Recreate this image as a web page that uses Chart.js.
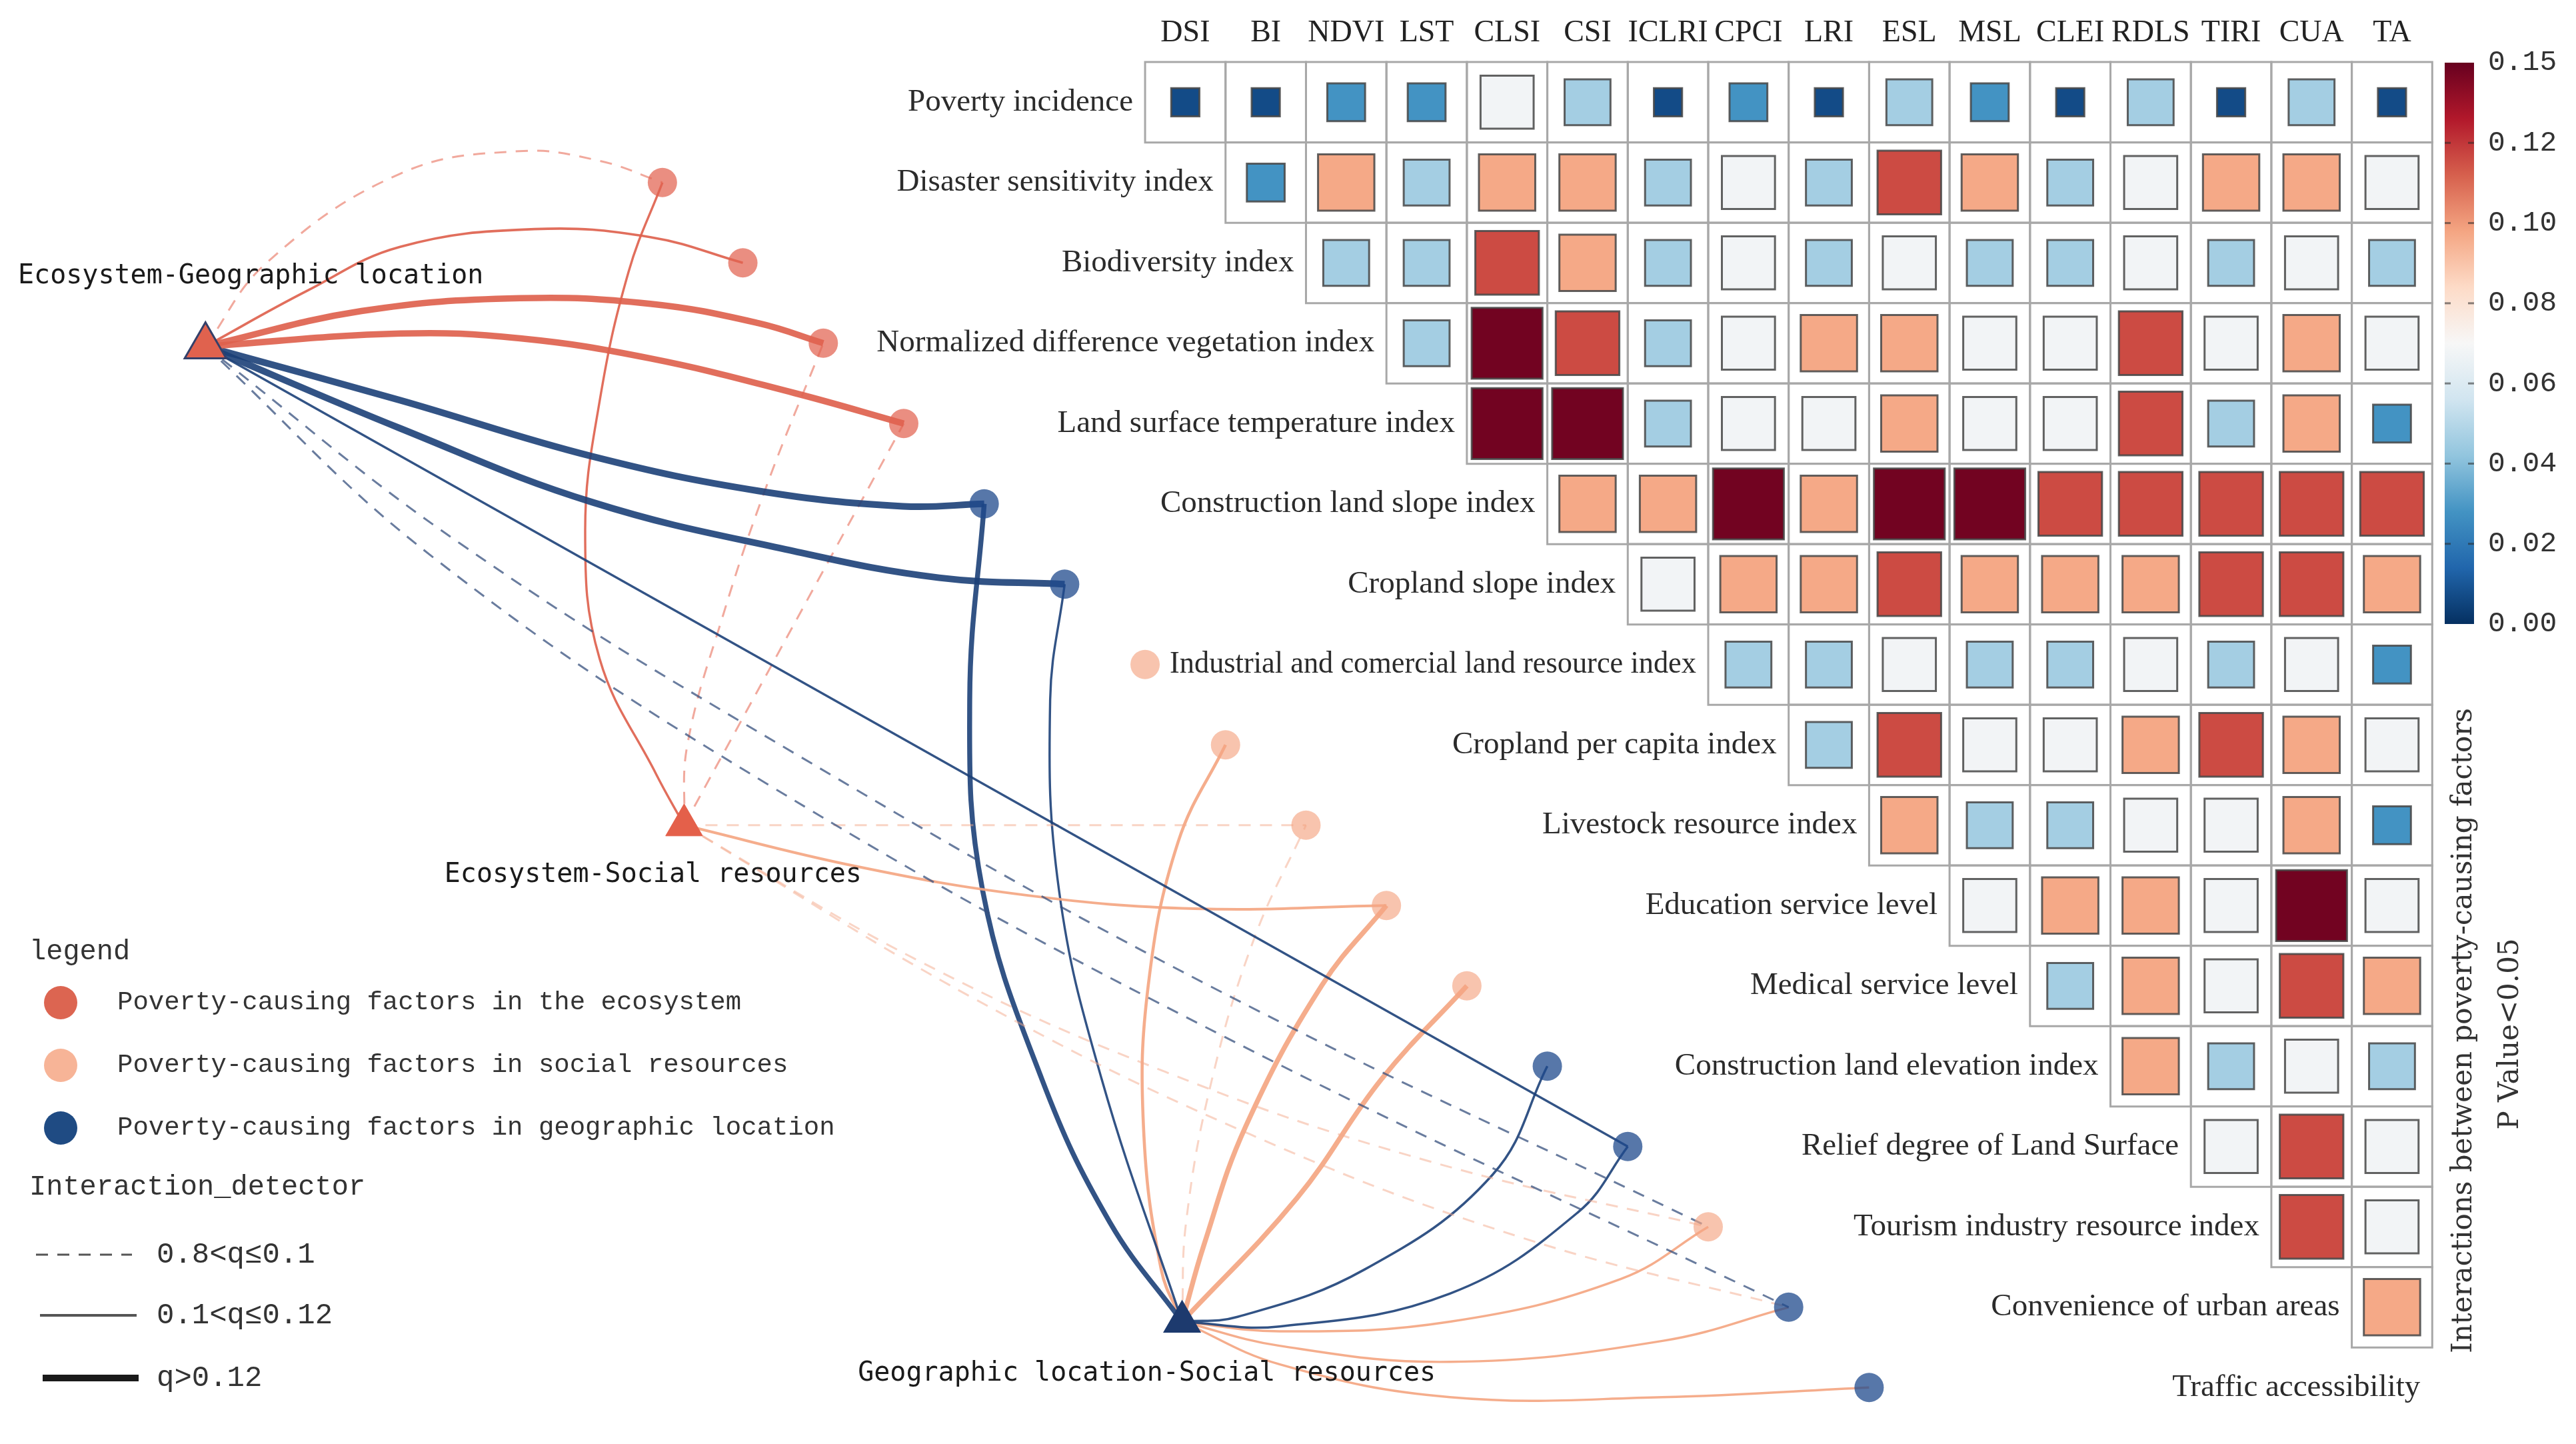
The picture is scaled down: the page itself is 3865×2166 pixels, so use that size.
<!DOCTYPE html>
<html>
<head>
<meta charset="utf-8">
<script src="https://cdn.jsdelivr.net/npm/chart.js@4.4.1/dist/chart.umd.min.js"></script>
<style>
  html, body { margin: 0; padding: 0; background: #fff; }
  canvas { display: block; }
</style>
</head>
<body>
<canvas id="chart" width="3865" height="2166"></canvas>
<script>
// ---------- data ----------
const factors = ["DSI", "BI", "NDVI", "LST", "CLSI", "CSI", "ICLRI", "CPCI", "LRI", "ESL", "MSL", "CLEI", "RDLS", "TIRI", "CUA", "TA"];
const rowLabels = [
  "Poverty incidence", "Disaster sensitivity index", "Biodiversity index",
  "Normalized difference vegetation index", "Land surface temperature index",
  "Construction land slope index", "Cropland slope index",
  "Industrial and comercial land resource index", "Cropland per capita index",
  "Livestock resource index", "Education service level", "Medical service level",
  "Construction land elevation index", "Relief degree of Land Surface",
  "Tourism industry resource index", "Convenience of urban areas", "Traffic accessibility"
];
// factor type of each column: eco = ecosystem, soc = social resources, geo = geographic location
const factorGroups = ["eco", "eco", "eco", "eco", "geo", "geo", "soc", "soc", "soc", "soc", "soc", "geo", "geo", "soc", "geo", "geo"];

// q values, row r starts at column r
const rowPI    = [0.007, 0.007, 0.028, 0.028, 0.068, 0.046, 0.007, 0.028, 0.007, 0.046, 0.028, 0.007, 0.046, 0.007, 0.046, 0.007];
const rowDSI   = [0.028, 0.097, 0.046, 0.097, 0.097, 0.046, 0.068, 0.046, 0.116, 0.097, 0.046, 0.068, 0.097, 0.097, 0.068];
const rowBI    = [0.046, 0.046, 0.116, 0.097, 0.046, 0.068, 0.046, 0.068, 0.046, 0.046, 0.068, 0.046, 0.068, 0.046];
const rowNDVI  = [0.046, 0.147, 0.116, 0.046, 0.068, 0.097, 0.097, 0.068, 0.068, 0.116, 0.068, 0.097, 0.068];
const rowLST   = [0.147, 0.147, 0.046, 0.068, 0.068, 0.097, 0.068, 0.068, 0.116, 0.046, 0.097, 0.028];
const rowCLSI  = [0.097, 0.097, 0.147, 0.097, 0.147, 0.147, 0.116, 0.116, 0.116, 0.116, 0.116];
const rowCSI   = [0.068, 0.097, 0.097, 0.116, 0.097, 0.097, 0.097, 0.116, 0.116, 0.097];
const rowICLRI = [0.046, 0.046, 0.068, 0.046, 0.046, 0.068, 0.046, 0.068, 0.028];
const rowCPCI  = [0.046, 0.116, 0.068, 0.068, 0.097, 0.116, 0.097, 0.068];
const rowLRI   = [0.097, 0.046, 0.046, 0.068, 0.068, 0.097, 0.028];
const rowESL   = [0.068, 0.097, 0.097, 0.068, 0.147, 0.068];
const rowMSL   = [0.046, 0.097, 0.068, 0.116, 0.097];
const rowCLEI  = [0.097, 0.046, 0.068, 0.046];
const rowRDLS  = [0.068, 0.116, 0.068];
const rowTIRI  = [0.116, 0.068];
const rowCUA   = [0.097];
const qRows = [rowPI, rowDSI, rowBI, rowNDVI, rowLST, rowCLSI, rowCSI, rowICLRI, rowCPCI, rowLRI, rowESL, rowMSL, rowCLEI, rowRDLS, rowTIRI, rowCUA];

const cbTicks = [0, 0.02, 0.04, 0.06, 0.08, 0.10, 0.12, 0.15];

const hubNames = ["Ecosystem-Geographic location", "Ecosystem-Social resources", "Geographic location-Social resources"];
// [hub, factor, line colour group, q]
const edges = [
  [0, "DSI", "eco", 0.09], [0, "BI", "eco", 0.106], [0, "NDVI", "eco", 0.142], [0, "LST", "eco", 0.142],
  [0, "CLSI", "geo", 0.145], [0, "CSI", "geo", 0.145], [0, "RDLS", "geo", 0.104],
  [0, "TIRI", "geo", 0.09], [0, "CUA", "geo", 0.09],
  [1, "DSI", "eco", 0.104], [1, "NDVI", "eco", 0.09], [1, "LST", "eco", 0.09],
  [1, "LRI", "soc", 0.09], [1, "ESL", "soc", 0.11], [1, "TIRI", "soc", 0.088], [1, "CUA", "soc", 0.088],
  [2, "CLSI", "geo", 0.127], [2, "CSI", "geo", 0.104], [2, "CPCI", "soc", 0.116], [2, "LRI", "soc", 0.09],
  [2, "ESL", "soc", 0.126], [2, "MSL", "soc", 0.126], [2, "CLEI", "geo", 0.105], [2, "RDLS", "geo", 0.105],
  [2, "TIRI", "soc", 0.105], [2, "CUA", "soc", 0.104], [2, "TA", "soc", 0.104]
];

const legendGroups = ["Poverty-causing factors in the ecosystem", "Poverty-causing factors in social resources", "Poverty-causing factors in geographic location"];
const bandLabels = ["0.8<q≤0.1", "0.1<q≤0.12", "q>0.12"];

// ---------- layout (axis units: one heatmap cell = 1) ----------
const X_MIN = -14.734, X_MAX = 17.287, Y_MIN = -1.272, Y_MAX = 16.703;
const hubPos = [[-12.18, 3.04], [-6.23, 9.0], [-0.04, 15.18]];
const hubLabelPos = [[-14.51, 2.17], [-9.21, 9.62], [-4.07, 15.83]];
// points each curve passes through between hub and factor (null = straight)
const edgeVia = [
  [[-11.42, 2.00], [-9.76, 0.89], [-8.28, 0.61], [-7.28, 0.73]],
  [[-10.92, 2.35], [-9.76, 1.80], [-8.09, 1.58], [-6.65, 1.68]],
  [[-10.24, 2.60], [-8.27, 2.44], [-6.65, 2.51], [-5.31, 2.75]],
  [[-9.76, 2.88], [-8.27, 2.94], [-6.65, 3.19], [-4.86, 3.62]],
  [[-9.76, 3.71], [-7.37, 4.41], [-5.30, 4.84], [-3.51, 5.03]],
  [[-9.76, 4.06], [-7.37, 4.98], [-4.86, 5.59], [-3.06, 5.92]],
  null,
  [[-9.02, 5.49], [-4.85, 8.11], [0.32, 11.01]],
  [[-9.37, 5.65], [-5.16, 8.51], [0.46, 11.62]],
  [[-6.58, 8.36], [-7.28, 6.93], [-7.46, 5.33], [-7.28, 3.72], [-6.92, 2.11]],
  [[-6.19, 8.00], [-5.75, 6.40], [-5.21, 4.79]],
  null,
  null,
  [[-4.10, 9.51], [-1.99, 9.87], [0.12, 10.04]],
  [[-3.33, 10.68], [-0.25, 12.07], [3.02, 13.18]],
  [[-2.66, 11.14], [0.81, 12.85], [4.20, 14.14]],
  [[-0.94, 13.94], [-1.78, 12.17], [-2.52, 9.81], [-2.68, 7.44]],
  [[-1.04, 12.16], [-1.57, 9.81], [-1.68, 7.44]],
  [[-0.30, 14.53], [-0.52, 12.75], [-0.46, 10.99], [-0.09, 9.21]],
  [[0.01, 13.94], [0.33, 12.17], [0.86, 10.40]],
  [[0.23, 14.23], [0.75, 12.75], [1.70, 10.99]],
  [[1.39, 13.64], [2.44, 12.16]],
  [[0.65, 15.12], [2.23, 14.53], [3.82, 13.35]],
  [[1.17, 15.24], [3.29, 14.83], [4.88, 13.82]],
  [[1.17, 15.30], [3.29, 15.18], [5.41, 14.65]],
  [[1.17, 15.48], [3.29, 15.68], [5.93, 15.42]],
  [[1.17, 15.71], [3.29, 16.12], [5.93, 16.12]]
];

// ---------- helpers ----------
const RDBU_R = ["#053061", "#2166ac", "#4393c3", "#92c5de", "#d1e5f0", "#f7f7f7", "#fddbc7", "#f4a582", "#d6604d", "#b2182b", "#67001f"];
const hex = h => [1, 3, 5].map(i => parseInt(h.slice(i, i + 2), 16));
function cmap(pos) {
  const f = Math.max(0, Math.min(1, pos)) * 10, i = Math.min(9, Math.floor(f)), t = f - i;
  const a = hex(RDBU_R[i]), b = hex(RDBU_R[i + 1]);
  return "rgb(" + a.map((v, k) => Math.round(v + (b[k] - v) * t)).join(",") + ")";
}
function valuePos(v) {
  for (let i = 0; i < cbTicks.length - 1; i++) {
    if (v <= cbTicks[i + 1]) return (i + (v - cbTicks[i]) / (cbTicks[i + 1] - cbTicks[i])) / (cbTicks.length - 1);
  }
  return 1;
}
const sizeStops = [[0, 0.31], [0.007, 0.35], [0.028, 0.47], [0.046, 0.57], [0.068, 0.66], [0.097, 0.70], [0.116, 0.79], [0.147, 0.88], [0.2, 0.9]];
function cellSize(v) {
  for (let i = 0; i < sizeStops.length - 1; i++) {
    const [a, sa] = sizeStops[i], [b, sb] = sizeStops[i + 1];
    if (v <= b) return sa + (sb - sa) * (v - a) / (b - a);
  }
  return 0.9;
}
const unitPx = chart => chart.scales.x.getPixelForValue(1) - chart.scales.x.getPixelForValue(0);
const factorPos = code => { const k = factors.indexOf(code) + 1; return { x: k - 7.5, y: k }; };

const nodeFill = { eco: "rgba(226,98,80,0.72)", soc: "rgba(244,165,130,0.65)", geo: "rgba(31,74,140,0.75)" };
function edgeStyle(group, q) {
  if (q <= 0.1) {
    const c = { eco: "rgba(232,112,92,0.6)", soc: "rgba(244,170,140,0.5)", geo: "rgba(55,80,125,0.75)" }[group];
    return { color: c, width: 3, dash: [18, 14] };
  }
  const c = { eco: "rgba(222,98,78,0.92)", soc: "rgba(244,166,130,0.92)", geo: "rgba(28,64,120,0.9)" }[group];
  const w = q > 0.12 ? 6.5 + (q - 0.12) * 140 : 3 + (q - 0.10) * 100;
  return { color: c, width: w, dash: [] };
}

// ---------- datasets ----------
const cellData = [];
qRows.forEach((row, r) => row.forEach((v, i) => cellData.push({ x: r + i, y: r, v })));

const datasets = [];
datasets.push({
  label: "cells", data: cellData, order: 1,
  pointStyle: "rect",
  pointRadius: ctx => ctx.raw ? cellSize(ctx.raw.v) * unitPx(ctx.chart) / Math.SQRT2 : 0,
  backgroundColor: ctx => ctx.raw ? cmap(valuePos(ctx.raw.v)) : "#fff",
  borderColor: "rgba(70,70,70,0.85)", borderWidth: 3
});
datasets.push({
  label: "grid", data: cellData.map(p => ({ x: p.x, y: p.y })), order: 2,
  pointStyle: "rect",
  pointRadius: ctx => unitPx(ctx.chart) / Math.SQRT2,
  backgroundColor: "rgba(0,0,0,0)", borderColor: "#a8a8a8", borderWidth: 3
});
datasets.push({
  label: "factors", data: factors.map(f => factorPos(f)), order: 3,
  pointStyle: "circle", pointRadius: 22, borderWidth: 0,
  backgroundColor: factors.map((f, i) => nodeFill[factorGroups[i]])
});
datasets.push({
  label: "hubs", data: hubPos.map(([x, y]) => ({ x, y })), order: 3,
  pointStyle: "triangle", pointRadius: [36, 32, 31],
  backgroundColor: ["#e0624e", "#e4604a", "#1d3a6e"],
  borderColor: ["#34406a", "#e4604a", "#1d3a6e"], borderWidth: [3, 1, 2]
});
edges.forEach(([h, f, group, q], i) => {
  const st = edgeStyle(group, q);
  const a = { x: hubPos[h][0], y: hubPos[h][1] }, b = factorPos(f), via = edgeVia[i];
  const mid = via ? via.map(([x, y]) => ({ x, y })) : [];
  datasets.push({
    label: hubNames[h] + " - " + f,
    data: [a, ...mid, b],
    showLine: true, tension: via ? 0.4 : 0, pointRadius: 0, order: 10,
    borderColor: st.color, borderWidth: st.width, borderDash: st.dash
  });
});

// ---------- text, legend and colour bar ----------
const overlay = {
  id: "overlay",
  afterDatasetsDraw(chart) {
    const { ctx } = chart, xs = chart.scales.x, ys = chart.scales.y;
    const px = v => xs.getPixelForValue(v), py = v => ys.getPixelForValue(v);
    ctx.save();
    ctx.textBaseline = "middle";

    // column headers
    ctx.fillStyle = "#222"; ctx.font = '46px "Liberation Serif"'; ctx.textAlign = "center";
    factors.forEach((f, c) => ctx.fillText(f, px(c), py(-0.86)));
    // row labels, right aligned left of each row's first cell
    ctx.font = '47px "Liberation Serif"'; ctx.textAlign = "right"; ctx.fillStyle = "#2b2b2b";
    rowLabels.forEach((lab, r) => ctx.fillText(lab, px(r - 0.5) - 18, py(r), 790));

    // hub labels
    ctx.font = '40px "DejaVu Sans Mono"'; ctx.textAlign = "left"; ctx.fillStyle = "#1a1a1a";
    hubNames.forEach((n, i) => ctx.fillText(n, px(hubLabelPos[i][0]), py(hubLabelPos[i][1])));

    // colour bar
    const cb = { l: 3668, r: 3712, t: 94, b: 936 };
    const g = ctx.createLinearGradient(0, cb.b, 0, cb.t);
    RDBU_R.forEach((c, i) => g.addColorStop(i / 10, c));
    ctx.fillStyle = g; ctx.fillRect(cb.l, cb.t, cb.r - cb.l, cb.b - cb.t);
    ctx.font = '43px "Liberation Mono"'; ctx.fillStyle = "#333"; ctx.textAlign = "left";
    cbTicks.forEach((t, i) => {
      const yy = cb.b - i / (cbTicks.length - 1) * (cb.b - cb.t);
      ctx.fillText(t.toFixed(2), 3733, yy);
      if (i > 0 && i < cbTicks.length - 1) {
        ctx.fillStyle = "rgba(40,40,40,0.55)";
        ctx.fillRect(cb.l, yy - 1.5, 9, 3); ctx.fillRect(cb.r - 9, yy - 1.5, 9, 3);
        ctx.fillStyle = "#333";
      }
    });
    ctx.save();
    ctx.translate(3697, 1546); ctx.rotate(-Math.PI / 2);
    ctx.textAlign = "center"; ctx.font = '42px "DejaVu Serif"'; ctx.fillStyle = "#333";
    ctx.fillText("Interactions between poverty-causing factors", 0, 0);
    ctx.restore();
    ctx.save();
    ctx.translate(3767, 1551); ctx.rotate(-Math.PI / 2);
    ctx.textAlign = "center"; ctx.font = '42px "DejaVu Serif"'; ctx.fillStyle = "#333";
    ctx.fillText("P Value<0.05", 0, 0);
    ctx.restore();

    // legend
    ctx.textAlign = "left"; ctx.fillStyle = "#333";
    ctx.font = '42px "Liberation Mono"';
    ctx.fillText("legend", 44, 1428);
    const legFill = ["#dc6551", "#f7b497", "#1f4b83"];
    legendGroups.forEach((t, i) => {
      const yy = 1504 + i * 94;
      ctx.beginPath(); ctx.arc(91, yy, 25, 0, Math.PI * 2); ctx.fillStyle = legFill[i]; ctx.fill();
      ctx.fillStyle = "#333"; ctx.font = '39px "Liberation Mono"';
      ctx.fillText(t, 176, yy);
    });
    ctx.font = '42px "Liberation Mono"';
    ctx.fillText("Interaction_detector", 44, 1781);
    const bandY = [1882, 1973, 2067];
    const bandStyle = [[54, 198, 3, [18, 14], "#555"], [60, 205, 4, [], "#555"], [64, 208, 10, [], "#1a1a1a"]];
    bandLabels.forEach((t, i) => {
      const [x0, x1, w, d, c] = bandStyle[i];
      ctx.beginPath(); ctx.setLineDash(d); ctx.lineWidth = w; ctx.strokeStyle = c;
      ctx.moveTo(x0, bandY[i]); ctx.lineTo(x1, bandY[i]); ctx.stroke();
      ctx.setLineDash([]);
      ctx.fillStyle = "#333"; ctx.font = '44px "Liberation Mono"';
      ctx.fillText(t, 235, bandY[i]);
    });
    ctx.restore();
  }
};

new Chart(document.getElementById("chart"), {
  type: "scatter",
  data: { datasets },
  options: {
    responsive: false, animation: false, devicePixelRatio: 1, events: [],
    layout: { padding: 0, autoPadding: false },
    plugins: { legend: { display: false }, tooltip: { enabled: false } },
    scales: {
      x: { type: "linear", min: X_MIN, max: X_MAX, display: false },
      y: { type: "linear", min: Y_MIN, max: Y_MAX, reverse: true, display: false }
    }
  },
  plugins: [overlay]
});
</script>
</body>
</html>
